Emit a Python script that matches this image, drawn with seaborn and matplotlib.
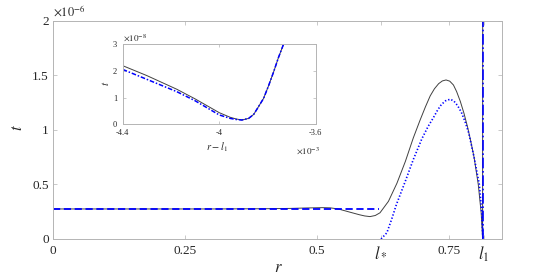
import matplotlib
matplotlib.use("Agg")
import matplotlib.pyplot as plt
import numpy as np
import pandas as pd
import seaborn as sns

# ---------------- data (t in units of 1e-6 for main plot) ----------------
l_star = 0.621
l_one = 0.8153

main_black_r = [0.0, 0.1, 0.2, 0.3, 0.4, 0.45, 0.48, 0.51, 0.525, 0.54, 0.5625, 0.58,
                0.59, 0.600, 0.61, 0.619, 0.635, 0.651, 0.667, 0.682, 0.695, 0.705,
                0.714, 0.722, 0.73, 0.737, 0.744, 0.751, 0.758, 0.764, 0.771, 0.778,
                0.785, 0.791, 0.797, 0.805, 0.8106, 0.8132, 0.8134]
main_black_t = [0.275, 0.275, 0.275, 0.275, 0.277, 0.280, 0.284, 0.287, 0.285, 0.275,
                0.245, 0.222, 0.211, 0.205, 0.215, 0.240, 0.345, 0.510, 0.710, 0.925,
                1.090, 1.210, 1.310, 1.375, 1.422, 1.447, 1.456, 1.445, 1.410, 1.350,
                1.260, 1.150, 1.020, 0.890, 0.750, 0.500, 0.236, 0.0, 2.0]

dashed_r = [0.0, 0.617]
dashed_t = [0.276, 0.276]

dotted_r = [0.621, 0.632, 0.641, 0.650, 0.667, 0.682, 0.698, 0.710, 0.720, 0.728,
            0.735, 0.743, 0.752, 0.759, 0.766, 0.773, 0.780, 0.787, 0.797, 0.807,
            0.8115, 0.8138]
dotted_t = [0.0, 0.057, 0.180, 0.315, 0.530, 0.727, 0.915, 1.030, 1.110, 1.180,
            1.230, 1.265, 1.280, 1.262, 1.220, 1.160, 1.075, 0.970, 0.750, 0.500,
            0.250, 0.0]

dashdot_r = [0.8140, 0.8140]
dashdot_t = [0.0, 2.0]

main_xticks = [0, 0.25, 0.5, l_star, 0.75, l_one]
main_xticklabels = ["0", "0.25", "0.5", "$l_*$", "0.75", "$l_1$"]
main_yticks = [0, 0.5, 1, 1.5, 2]
main_yticklabels = ["0", "0.5", "1", "1.5", "2"]

# inset: x in units of 1e-3 (r - l1), t in units of 1e-8
inset_black_x = [-4.4, -4.3, -4.176, -4.1, -4.0, -3.954, -3.93, -3.906, -3.878,
                 -3.857, -3.837, -3.816, -3.795, -3.774, -3.755, -3.733]
inset_black_t = [2.19, 1.82, 1.31, 0.95, 0.435, 0.26, 0.20, 0.16, 0.22,
                 0.37, 0.66, 0.97, 1.45, 1.97, 2.48, 3.0]
inset_blue_x = [-4.4, -4.3, -4.176, -4.1, -4.0, -3.954, -3.93, -3.906, -3.878,
                -3.857, -3.837, -3.816, -3.795, -3.774, -3.755, -3.733]
inset_blue_t = [2.05, 1.68, 1.22, 0.88, 0.35, 0.22, 0.18, 0.16, 0.22,
                0.37, 0.66, 0.97, 1.45, 1.97, 2.48, 3.0]
inset_xticks = [-4.4, -4.0, -3.6]
inset_xticklabels = ["-4.4", "-4", "-3.6"]
inset_yticks = [0, 1, 2, 3]
inset_yticklabels = ["0", "1", "2", "3"]

# ---------------- style ----------------
sns.set_style("ticks")
plt.rcParams["font.family"] = "serif"
plt.rcParams["font.serif"] = ["Liberation Serif", "DejaVu Serif"]
plt.rcParams["mathtext.fontset"] = "stix"
plt.rcParams["axes.unicode_minus"] = False

spine_col = "#b4b4b4"
txt_col = "#262626"
black_col = "#404040"
blue = "#0000ff"

fig = plt.figure(figsize=(5.58, 2.79), dpi=100)
fig.patch.set_facecolor("white")
ax = fig.add_axes([0.095, 0.1434, 0.8047, 0.783])

sns.lineplot(x=main_black_r, y=main_black_t, ax=ax, sort=False, estimator=None,
             color=black_col, linewidth=0.7)
sns.lineplot(x=dashed_r, y=dashed_t, ax=ax, sort=False, estimator=None,
             color=blue, linewidth=1.3, linestyle=(0, (4, 2)))
sns.lineplot(x=dotted_r, y=dotted_t, ax=ax, sort=False, estimator=None,
             color=blue, linewidth=1.2, linestyle=(0, (0.8, 1.2)))
sns.lineplot(x=dashdot_r, y=dashdot_t, ax=ax, sort=False, estimator=None,
             color=blue, linewidth=1.2, linestyle="-.")

ax.set_xlim(0, 0.85)
ax.set_ylim(0, 2)
ax.set_xticks(main_xticks)
ax.set_xticklabels(main_xticklabels)
ax.set_yticks(main_yticks)
ax.set_yticklabels(main_yticklabels)
for lab in ax.get_xticklabels():
    lab.set_fontsize(12 if "$" in lab.get_text() else 9.5)
for lab in ax.get_yticklabels():
    lab.set_fontsize(9.5)
ax.tick_params(direction="in", length=3, width=0.5, color=spine_col,
               labelcolor=txt_col, top=True, right=True)
ax.tick_params(axis="x", pad=4)
ax.tick_params(axis="y", pad=3)
for s in ax.spines.values():
    s.set_visible(True)
    s.set_color(spine_col)
    s.set_linewidth(0.7)

ax.set_xlabel("$r$", fontsize=12, color=txt_col)
ax.xaxis.set_label_coords(0.501, -0.131)
ax.xaxis.label.set_va("center")
ax.set_ylabel("$t$", fontsize=12, color=txt_col)
ax.yaxis.set_label_coords(-0.078, 0.509)
ax.yaxis.label.set_va("center")
ax.text(0.0, 1.005, r"$\times10^{-6}$", transform=ax.transAxes, ha="left",
        va="bottom", fontsize=9, color=txt_col)

# ---------------- inset ----------------
ins = fig.add_axes([0.2199, 0.5545, 0.3459, 0.2878])
ins.set_facecolor("white")
sns.lineplot(x=inset_black_x, y=inset_black_t, ax=ins, sort=False, estimator=None,
             color=black_col, linewidth=0.7)
sns.lineplot(x=inset_blue_x, y=inset_blue_t, ax=ins, sort=False, estimator=None,
             color=blue, linewidth=1.1, linestyle=(0, (3, 1.2, 1, 1.2)))
ins.set_xlim(-4.4, -3.6)
ins.set_ylim(0, 3)
ins.set_xticks(inset_xticks)
ins.set_xticklabels(inset_xticklabels)
ins.set_yticks(inset_yticks)
ins.set_yticklabels(inset_yticklabels)
ins.tick_params(direction="in", length=2.5, width=0.5, color=spine_col,
                labelcolor=txt_col, labelsize=6, top=True, right=True)
ins.tick_params(axis="x", pad=3.5)
ins.tick_params(axis="y", pad=4.0)
for s in ins.spines.values():
    s.set_visible(True)
    s.set_color(spine_col)
    s.set_linewidth(0.7)
ins.set_xlabel("$r - l_1$", fontsize=7.5, color=txt_col)
ins.xaxis.set_label_coords(0.49, -0.28)
ins.xaxis.label.set_va("center")
ins.set_ylabel("$t$", fontsize=8, color=txt_col)
ins.yaxis.set_label_coords(-0.09, 0.514)
ins.yaxis.label.set_va("center")
ins.text(0.0, 1.01, r"$\times10^{-8}$", transform=ins.transAxes, ha="left",
         va="bottom", fontsize=6.5, color=txt_col)
ins.text(1.02, -0.33, r"$\times10^{-3}$", transform=ins.transAxes, ha="right",
         va="center", fontsize=6.5, color=txt_col)

fig.savefig("out.png", dpi=100, facecolor="white")
